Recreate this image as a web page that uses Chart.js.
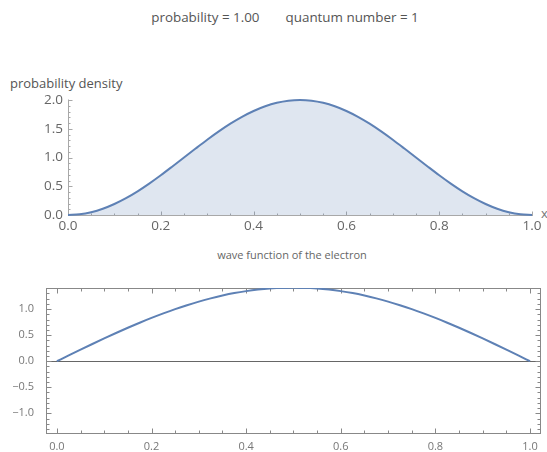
<!DOCTYPE html>
<html><head><meta charset="utf-8">
<script src="https://cdn.jsdelivr.net/npm/chart.js@4.4.1/dist/chart.umd.min.js"></script>
<style>
html,body{margin:0;padding:0;background:#fff;overflow:hidden;width:547px;height:452px;position:relative}
canvas{position:absolute;left:0;top:0}
.t{position:absolute;font-family:'Open Sans',sans-serif;white-space:nowrap}
</style></head>
<body>
<div class="t" style="left:0;width:570px;text-align:center;top:8px;font-size:13.4px;line-height:18px;color:#555">probability = 1.00<span style="display:inline-block;width:26px"></span>quantum number = 1</div>
<div class="t" style="left:10px;top:74px;font-size:13px;line-height:18px;color:#555">probability density</div>
<div class="t" style="left:0;width:584px;text-align:center;top:247px;font-size:11px;line-height:16px;color:#666">wave function of the electron</div>
<div class="t" style="left:541px;top:204px;font-size:13px;line-height:18px;color:#777">x</div>
<canvas id="c1" width="547" height="452"></canvas>
<canvas id="c2" width="547" height="452"></canvas>
<script>
const xValues = [0, 0.025, 0.05, 0.075, 0.1, 0.125, 0.15, 0.175, 0.2, 0.225, 0.25, 0.275, 0.3, 0.325, 0.35, 0.375, 0.4, 0.425, 0.45, 0.475, 0.5, 0.525, 0.55, 0.575, 0.6, 0.625, 0.65, 0.675, 0.7, 0.725, 0.75, 0.775, 0.8, 0.825, 0.85, 0.875, 0.9, 0.925, 0.95, 0.975, 1];
const densityValues = [0, 0.012, 0.049, 0.109, 0.191, 0.293, 0.412, 0.546, 0.691, 0.844, 1.000, 1.156, 1.309, 1.454, 1.588, 1.707, 1.809, 1.891, 1.951, 1.988, 2.000, 1.988, 1.951, 1.891, 1.809, 1.707, 1.588, 1.454, 1.309, 1.156, 1.000, 0.844, 0.691, 0.546, 0.412, 0.293, 0.191, 0.109, 0.049, 0.012, 0];
const waveValues = [0, 0.111, 0.221, 0.330, 0.437, 0.541, 0.642, 0.739, 0.831, 0.918, 1.000, 1.075, 1.144, 1.206, 1.260, 1.307, 1.345, 1.375, 1.397, 1.410, 1.414, 1.410, 1.397, 1.375, 1.345, 1.307, 1.260, 1.206, 1.144, 1.075, 1.000, 0.918, 0.831, 0.739, 0.642, 0.541, 0.437, 0.330, 0.221, 0.111, 0];

const xMajorTicks = [0, 0.2, 0.4, 0.6, 0.8, 1.0];
const xMinorTicks = [0.05, 0.1, 0.15, 0.25, 0.3, 0.35, 0.45, 0.5, 0.55, 0.65, 0.7, 0.75, 0.85, 0.9, 0.95];
const densityMajorTicks = [0, 0.5, 1.0, 1.5, 2.0];
const densityMinorTicks = [0.1, 0.2, 0.3, 0.4, 0.6, 0.7, 0.8, 0.9, 1.1, 1.2, 1.3, 1.4, 1.6, 1.7, 1.8, 1.9];
const waveMajorTicks = [-1.0, -0.5, 0, 0.5, 1.0];
const waveMinorTicks = [-1.3, -1.2, -1.1, -0.9, -0.8, -0.7, -0.6, -0.4, -0.3, -0.2, -0.1, 0.1, 0.2, 0.3, 0.4, 0.6, 0.7, 0.8, 0.9, 1.1, 1.2, 1.3];

const LINE = '#5E81B5';
const FONT = "'Open Sans', sans-serif";
const fmt = v => (v < 0 ? '\u2212' + Math.abs(v).toFixed(1) : v.toFixed(1));
const setTicks = arr => (s => { s.ticks = arr.map(v => ({value: v})); });

function line(ctx, x1, y1, x2, y2) { ctx.beginPath(); ctx.moveTo(x1, y1); ctx.lineTo(x2, y2); ctx.stroke(); }
const r = v => Math.round(v) + 0.5;

const axesPlugin = {
  id: 'axesTop',
  beforeDatasetsDraw(chart) {
    const {ctx, chartArea: a, scales: {x, y}} = chart;
    ctx.save();
    ctx.strokeStyle = '#a8a8a8'; ctx.lineWidth = 1;
    const y0 = r(y.getPixelForValue(0)), x0 = r(x.getPixelForValue(0));
    line(ctx, x0, y0, x.getPixelForValue(1) + 1, y0);
    line(ctx, x0, y0, x0, y.getPixelForValue(2) - 0.5);
    xMajorTicks.forEach(v => { const p = r(x.getPixelForValue(v)); line(ctx, p, y0, p, y0 - 4); });
    xMinorTicks.forEach(v => { const p = r(x.getPixelForValue(v)); line(ctx, p, y0, p, y0 - 2); });
    densityMajorTicks.forEach(v => { const p = r(y.getPixelForValue(v)); line(ctx, x0, p, x0 + 4, p); });
    densityMinorTicks.forEach(v => { const p = r(y.getPixelForValue(v)); line(ctx, x0, p, x0 + 2, p); });
    ctx.restore();
  }
};

const framePlugin = {
  id: 'frameBottom',
  beforeDatasetsDraw(chart) {
    const {ctx, chartArea: a, scales: {x, y}} = chart;
    ctx.save();
    ctx.lineWidth = 1;
    ctx.strokeStyle = '#666';
    const yz = r(y.getPixelForValue(0));
    line(ctx, a.left, yz, a.right, yz);
    ctx.strokeStyle = '#888';
    const L = r(a.left), R = r(a.right), T = r(a.top), B = r(a.bottom);
    ctx.strokeRect(L, T, R - L, B - T);
    xMajorTicks.forEach(v => { const p = r(x.getPixelForValue(v)); line(ctx, p, B, p, B - 5); line(ctx, p, T, p, T + 5); });
    xMinorTicks.forEach(v => { const p = r(x.getPixelForValue(v)); line(ctx, p, B, p, B - 3); line(ctx, p, T, p, T + 3); });
    waveMajorTicks.forEach(v => { const p = r(y.getPixelForValue(v)); line(ctx, L, p, L + 5, p); line(ctx, R, p, R - 5, p); });
    waveMinorTicks.forEach(v => { const p = r(y.getPixelForValue(v)); line(ctx, L, p, L + 3, p); line(ctx, R, p, R - 3, p); });
    ctx.restore();
  }
};

new Chart(document.getElementById('c1'), {
  type: 'line',
  data: { datasets: [{
    data: xValues.map((v, i) => ({x: v, y: densityValues[i]})),
    borderColor: LINE, borderWidth: 2, pointRadius: 0,
    fill: 'origin', backgroundColor: 'rgba(94,129,181,0.2)',
    cubicInterpolationMode: 'monotone', clip: 6
  }]},
  options: {
    responsive: false, animation: false, devicePixelRatio: 1,
    layout: { padding: {left: 0, top: 100, right: 15, bottom: 0} },
    plugins: { legend: {display: false}, tooltip: {enabled: false} },
    scales: {
      x: { type: 'linear', min: 0, max: 1,
        afterBuildTicks: setTicks(xMajorTicks),
        afterFit: s => { s.height = 452 - 215; },
        grid: {display: false, drawTicks: false}, border: {display: false},
        ticks: { callback: fmt, padding: 3, color: '#666', font: {family: FONT, size: 13.5}, maxRotation: 0, autoSkip: false }
      },
      y: { type: 'linear', min: 0, max: 2,
        afterBuildTicks: setTicks(densityMajorTicks),
        afterFit: s => { s.width = 68; },
        grid: {display: false, drawTicks: false}, border: {display: false},
        ticks: { callback: fmt, padding: 5, color: '#666', font: {family: FONT, size: 13.5} }
      }
    }
  },
  plugins: [axesPlugin]
});

new Chart(document.getElementById('c2'), {
  type: 'line',
  data: { datasets: [{
    data: xValues.map((v, i) => ({x: v, y: waveValues[i]})),
    borderColor: LINE, borderWidth: 2, pointRadius: 0, fill: false,
    cubicInterpolationMode: 'monotone'
  }]},
  options: {
    responsive: false, animation: false, devicePixelRatio: 1,
    layout: { padding: {left: 0, top: 288, right: 7, bottom: 0} },
    plugins: { legend: {display: false}, tooltip: {enabled: false} },
    scales: {
      x: { type: 'linear', min: -0.023, max: 1.021,
        afterBuildTicks: setTicks(xMajorTicks),
        afterFit: s => { s.height = 452 - 435; },
        grid: {display: false, drawTicks: false}, border: {display: false},
        ticks: { callback: fmt, padding: 7, color: '#777', font: {family: FONT, size: 11}, maxRotation: 0, autoSkip: false }
      },
      y: { type: 'linear', min: -1.385, max: 1.405,
        afterBuildTicks: setTicks(waveMajorTicks),
        afterFit: s => { s.width = 46; },
        grid: {display: false, drawTicks: false}, border: {display: false},
        ticks: { callback: fmt, padding: 12, color: '#777', font: {family: FONT, size: 11} }
      }
    }
  },
  plugins: [framePlugin]
});
</script>
</body></html>
